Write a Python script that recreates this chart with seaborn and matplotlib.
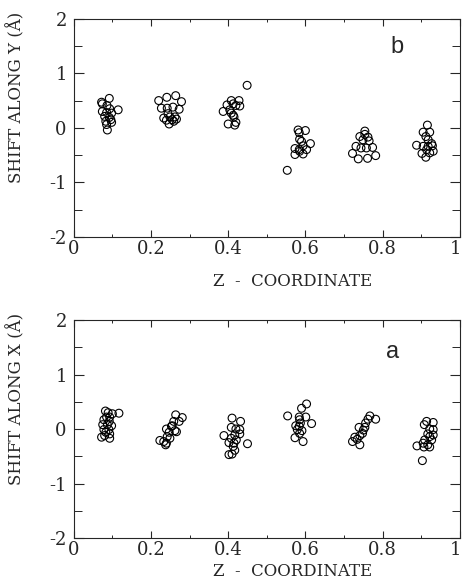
import pandas as pd
import matplotlib
matplotlib.use("Agg")
import matplotlib.pyplot as plt
import matplotlib.transforms as mtransforms
import seaborn as sns
from matplotlib.ticker import MultipleLocator, FormatStrFormatter

# panel b : desplazamiento en Y
z_y = [0.092, 0.072, 0.074, 0.086, 0.093, 0.115, 0.074, 0.085, 0.098, 0.080, 0.092, 0.096, 0.083, 0.098, 0.085, 0.087,
       0.220, 0.241, 0.264, 0.279, 0.227, 0.242, 0.257, 0.273, 0.244, 0.233, 0.249, 0.262, 0.240, 0.255, 0.266, 0.247, 0.259,
       0.449, 0.408, 0.428, 0.397, 0.413, 0.430, 0.420, 0.387, 0.404, 0.408, 0.413, 0.415, 0.400, 0.420, 0.417,
       0.581, 0.600, 0.584, 0.585, 0.590, 0.613, 0.594, 0.573, 0.584, 0.603, 0.573, 0.594, 0.585, 0.553,
       0.754, 0.741, 0.762, 0.749, 0.765, 0.731, 0.744, 0.758, 0.774, 0.722, 0.737, 0.761, 0.782, 0.754,
       0.916, 0.905, 0.922, 0.912, 0.918, 0.927, 0.888, 0.905, 0.918, 0.929, 0.914, 0.931, 0.902, 0.922, 0.912]
shift_y = [0.54, 0.47, 0.44, 0.41, 0.35, 0.33, 0.30, 0.28, 0.27, 0.21, 0.19, 0.15, 0.12, 0.10, 0.06, -0.04,
           0.50, 0.56, 0.59, 0.48, 0.36, 0.36, 0.38, 0.34, 0.26, 0.18, 0.20, 0.20, 0.14, 0.15, 0.16, 0.07, 0.12,
           0.78, 0.50, 0.50, 0.42, 0.44, 0.40, 0.41, 0.30, 0.33, 0.27, 0.23, 0.20, 0.07, 0.10, 0.05,
           -0.04, -0.05, -0.09, -0.21, -0.25, -0.29, -0.33, -0.38, -0.40, -0.40, -0.49, -0.48, -0.43, -0.78,
           -0.06, -0.16, -0.17, -0.22, -0.24, -0.34, -0.37, -0.37, -0.36, -0.47, -0.57, -0.56, -0.51, -0.12,
           0.05, -0.08, -0.08, -0.16, -0.22, -0.29, -0.32, -0.34, -0.34, -0.33, -0.40, -0.43, -0.47, -0.46, -0.54]

# panel a : desplazamiento en X
z_x = [0.082, 0.089, 0.100, 0.117, 0.085, 0.093, 0.078, 0.092, 0.087, 0.075, 0.098, 0.078, 0.091, 0.083, 0.093, 0.072, 0.093, 0.080,
       0.264, 0.281, 0.273, 0.259, 0.253, 0.240, 0.262, 0.247, 0.266, 0.223, 0.233, 0.240, 0.238, 0.249, 0.255, 0.242,
       0.410, 0.432, 0.408, 0.420, 0.430, 0.389, 0.417, 0.430, 0.408, 0.421, 0.402, 0.415, 0.450, 0.417, 0.410, 0.402, 0.413,
       0.603, 0.590, 0.601, 0.584, 0.554, 0.585, 0.616, 0.575, 0.584, 0.579, 0.591, 0.585, 0.573, 0.594, 0.587,
       0.767, 0.762, 0.782, 0.756, 0.754, 0.750, 0.739, 0.748, 0.741, 0.728, 0.722, 0.741, 0.734,
       0.914, 0.931, 0.908, 0.922, 0.931, 0.917, 0.931, 0.922, 0.909, 0.927, 0.905, 0.917, 0.889, 0.922, 0.907, 0.903]
shift_x = [0.33, 0.30, 0.28, 0.29, 0.22, 0.22, 0.17, 0.14, 0.08, 0.08, 0.06, -0.01, -0.01, -0.06, -0.09, -0.15, -0.17, -0.12,
           0.26, 0.21, 0.14, 0.14, 0.05, 0.00, -0.03, -0.06, -0.05, -0.21, -0.23, -0.26, -0.29, -0.17, 0.06, -0.14,
           0.20, 0.14, 0.03, 0.00, -0.01, -0.12, -0.11, -0.09, -0.17, -0.20, -0.25, -0.26, -0.27, -0.39, -0.46, -0.47, -0.32,
           0.46, 0.38, 0.22, 0.22, 0.24, 0.17, 0.10, 0.06, 0.05, -0.01, -0.03, -0.08, -0.16, -0.23, 0.11,
           0.24, 0.18, 0.18, 0.11, 0.03, -0.02, 0.03, -0.08, -0.12, -0.15, -0.23, -0.29, -0.19,
           0.14, 0.12, 0.08, 0.00, -0.01, -0.09, -0.11, -0.14, -0.20, -0.20, -0.26, -0.29, -0.31, -0.33, -0.33, -0.58]

sns.set_style("ticks")
plt.rcParams['font.family'] = ['DejaVu Serif']
plt.rcParams['axes.unicode_minus'] = False

fig = plt.figure(figsize=(4.64, 5.79), dpi=100)
ax_b = fig.add_axes([0.159, 0.591, 0.832, 0.3765])
ax_a = fig.add_axes([0.159, 0.0708, 0.832, 0.3765])

paneles = [(ax_b, z_y, shift_y, "SHIFT ALONG Y (Å)", "b", (0.837, 0.87), -0.165),
           (ax_a, z_x, shift_x, "SHIFT ALONG X (Å)", "a", (0.827, 0.853), -0.115)]

for ax, zz, ss, ylab, letra, pos, ylabx in paneles:
    df = pd.DataFrame({"z": zz, "shift": ss})
    sns.scatterplot(data=df, x="z", y="shift", ax=ax, marker="o", s=32,
                    facecolor="none", edgecolor="black", linewidth=0.8)
    ax.set_xlim(0, 1)
    ax.set_ylim(-2, 2)
    ax.xaxis.set_major_locator(MultipleLocator(0.2))
    ax.xaxis.set_minor_locator(MultipleLocator(0.1))
    ax.yaxis.set_major_locator(MultipleLocator(1))
    ax.yaxis.set_minor_locator(MultipleLocator(0.5))
    ax.xaxis.set_major_formatter(FormatStrFormatter("%g"))
    ax.yaxis.set_major_formatter(FormatStrFormatter("%g"))
    ax.tick_params(axis="x", which="major", direction="in", top=True, length=5, width=0.8, labelsize=13, pad=2)
    ax.tick_params(axis="x", which="minor", direction="in", top=True, length=2.5, width=0.7)
    ax.tick_params(axis="y", which="major", direction="in", right=True, length=7, width=0.8, labelsize=13, pad=5)
    ax.tick_params(axis="y", which="minor", direction="in", right=True, length=5.5, width=0.7)
    for sp in ax.spines.values():
        sp.set_linewidth(0.8)
    ax.set_xlabel("Z  -  COORDINATE", fontsize=12)
    ax.xaxis.set_label_coords(0.567, ylabx)
    ax.set_ylabel(ylab, fontsize=12)
    ax.yaxis.set_label_coords(-0.125, 0.64)
    ax.text(pos[0], pos[1], letra, transform=ax.transAxes, fontsize=17,
            family="Liberation Sans", ha="center", va="center")

# el "1" del eje x queda pegado al borde derecho
fig.canvas.draw()
for ax in (ax_b, ax_a):
    for lab in ax.get_xticklabels():
        if lab.get_text() == "1":
            lab.set_transform(lab.get_transform() +
                              mtransforms.ScaledTranslation(-3 / 72, 0, fig.dpi_scale_trans))

plt.savefig("out.png", dpi=100)
